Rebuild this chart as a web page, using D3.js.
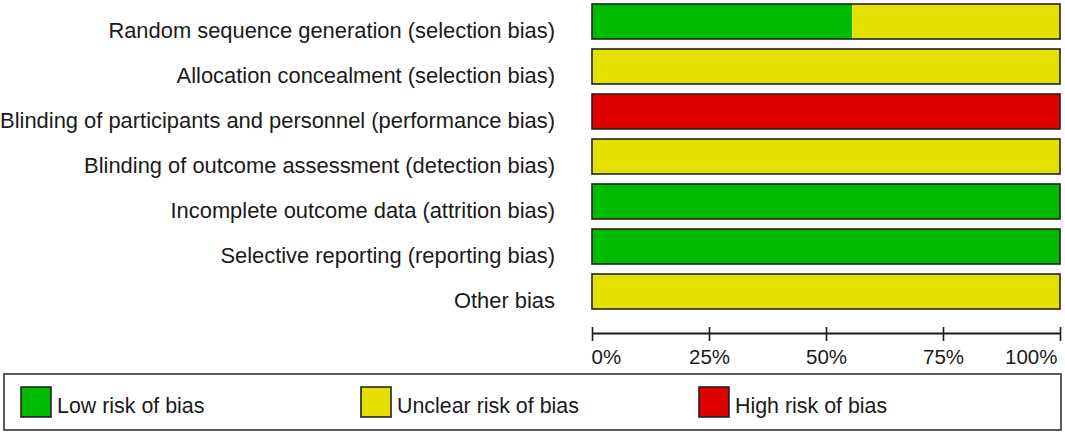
<!DOCTYPE html>
<html>
<head>
<meta charset="utf-8">
<script src="https://cdn.jsdelivr.net/npm/d3@7"></script>
<style>
  html, body { margin: 0; padding: 0; background: #fff; }
  svg { display: block; }
  text { font-family: "Liberation Sans", Arial, sans-serif; fill: #1a1a1a; }
</style>
</head>
<body>
<svg id="chart" width="1065" height="434"></svg>
<script>
// ---- data ----
const domains = [
  "Random sequence generation (selection bias)",
  "Allocation concealment (selection bias)",
  "Blinding of participants and personnel (performance bias)",
  "Blinding of outcome assessment (detection bias)",
  "Incomplete outcome data (attrition bias)",
  "Selective reporting (reporting bias)",
  "Other bias"
];
const lowRisk     = [55.6, 0, 0, 0, 100, 100, 0];
const unclearRisk = [44.4, 100, 0, 100, 0, 0, 100];
const highRisk    = [0, 0, 100, 0, 0, 0, 0];
const tickValues  = [0, 25, 50, 75, 100];
const legendLabels = ["Low risk of bias", "Unclear risk of bias", "High risk of bias"];
const colors = ["#00bb00", "#e6e000", "#e00000"];

// ---- layout ----
const svg = d3.select("#chart");
const x = d3.scaleLinear().domain([0, 100]).range([592, 1060]);
const y = d3.scaleBand().domain(domains).range([4, 309]).paddingInner(10 / 45).paddingOuter(0);

const series = [lowRisk, unclearRisk, highRisk];
const rows = domains.map((d, i) => {
  let acc = 0;
  return series.map((s, k) => {
    const seg = { domain: d, k, x0: acc, x1: acc + s[i] };
    acc += s[i];
    return seg;
  }).filter(seg => seg.x1 > seg.x0);
});

// segments
const g = svg.append("g");
rows.forEach(segs => {
  g.selectAll(null).data(segs).enter().append("rect")
    .attr("x", d => x(d.x0))
    .attr("y", d => y(d.domain))
    .attr("width", d => x(d.x1) - x(d.x0))
    .attr("height", y.bandwidth())
    .attr("fill", d => colors[d.k]);
});
// bar outlines
g.selectAll("rect.outline").data(domains).enter().append("rect")
  .attr("class", "outline")
  .attr("x", x(0)).attr("y", d => y(d))
  .attr("width", x(100) - x(0)).attr("height", y.bandwidth())
  .attr("fill", "none").attr("stroke", "#222").attr("stroke-width", 1.6);

// category labels
svg.append("g").selectAll("text").data(domains).enter().append("text")
  .attr("x", 555)
  .attr("y", d => y(d) + y.bandwidth() - 1)
  .attr("text-anchor", "end")
  .style("font-size", "21.9px")
  .text(d => d);

// axis
const axisY = 333;
const axis = d3.axisBottom(x).tickValues(tickValues).tickSize(0).tickFormat(d => d + "%");
const ax = svg.append("g").attr("transform", `translate(0,${axisY})`).call(axis);
ax.select(".domain").attr("stroke", "#1a1a1a").attr("stroke-width", 2.2);
ax.selectAll(".tick line").attr("y1", -6).attr("y2", 8).attr("stroke", "#1a1a1a").attr("stroke-width", 1.6);
ax.selectAll(".tick text")
  .attr("y", 30.5).attr("dy", 0)
  .style("font-size", "20.5px")
  .style("font-family", '"Liberation Sans", Arial, sans-serif')
  .attr("fill", "#1a1a1a")
  .attr("text-anchor", (d, i) => i === 0 ? "start" : (i === tickValues.length - 1 ? "end" : "middle"))
  .attr("dx", (d, i) => i === 0 ? -1 : (i === tickValues.length - 1 ? -3 : 0));

// legend
const legend = svg.append("g");
legend.append("rect")
  .attr("x", 4).attr("y", 374).attr("width", 1057).attr("height", 56)
  .attr("fill", "none").attr("stroke", "#333").attr("stroke-width", 1.6);
const legX = [21, 361, 699];
const items = legend.selectAll("g.item").data(legendLabels).enter().append("g")
  .attr("class", "item")
  .attr("transform", (d, i) => `translate(${legX[i]},387)`);
items.append("rect")
  .attr("width", 30).attr("height", 30)
  .attr("fill", (d, i) => colors[i])
  .attr("stroke", "#222").attr("stroke-width", 1.6);
items.append("text")
  .attr("x", 36).attr("y", 26)
  .style("font-size", "21.4px")
  .text(d => d);
</script>
</body>
</html>
